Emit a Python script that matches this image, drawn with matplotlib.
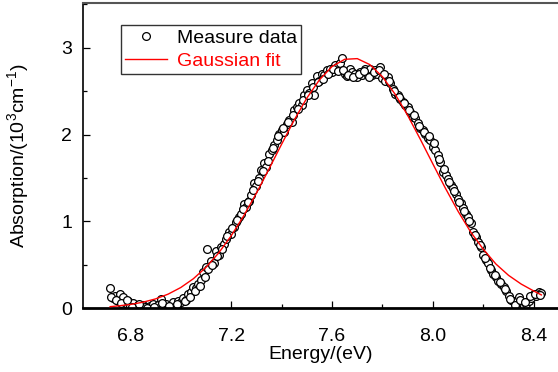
import matplotlib
matplotlib.use("Agg")
import matplotlib.pyplot as plt
from matplotlib.ticker import MultipleLocator

plt.rcParams['font.family'] = ['Liberation Sans', 'DejaVu Sans']
plt.rcParams['mathtext.default'] = 'regular'
plt.rcParams['xtick.direction'] = 'in'
plt.rcParams['ytick.direction'] = 'in'

energy = [6.72, 6.73, 6.74, 6.75, 6.76, 6.77, 6.78, 6.79, 6.80, 6.81,
          6.82, 6.83, 6.84, 6.85, 6.86, 6.87, 6.88, 6.89, 6.90, 6.91,
          6.92, 6.93, 6.94, 6.95, 6.96, 6.97, 6.98, 6.99, 7.00, 7.01,
          7.02, 7.03, 7.04, 7.05, 7.06, 7.07, 7.08, 7.09, 7.10, 7.105,
          7.11, 7.12, 7.13, 7.14, 7.15, 7.16, 7.17, 7.18, 7.19, 7.20,
          7.21, 7.22, 7.23, 7.24, 7.25, 7.26, 7.27, 7.28, 7.29, 7.30,
          7.31, 7.32, 7.33, 7.34, 7.35, 7.36, 7.37, 7.38, 7.39, 7.40,
          7.41, 7.42, 7.43, 7.44, 7.45, 7.46, 7.47, 7.48, 7.49, 7.50,
          7.51, 7.52, 7.53, 7.54, 7.55, 7.56, 7.57, 7.58, 7.59, 7.60,
          7.61, 7.62, 7.63, 7.64, 7.65, 7.66, 7.67, 7.68, 7.69, 7.70,
          7.71, 7.72, 7.73, 7.74, 7.75, 7.76, 7.77, 7.78, 7.79, 7.80,
          7.81, 7.82, 7.83, 7.84, 7.85, 7.86, 7.87, 7.88, 7.89, 7.90,
          7.91, 7.92, 7.93, 7.94, 7.95, 7.96, 7.97, 7.98, 7.99, 8.00,
          8.01, 8.02, 8.03, 8.04, 8.05, 8.06, 8.07, 8.08, 8.09, 8.10,
          8.11, 8.12, 8.13, 8.14, 8.15, 8.16, 8.17, 8.18, 8.19, 8.20,
          8.21, 8.22, 8.23, 8.24, 8.25, 8.26, 8.27, 8.28, 8.29, 8.30,
          8.31, 8.32, 8.33, 8.34, 8.35, 8.36, 8.37, 8.38, 8.39, 8.40,
          8.41, 8.42, 8.43]
absorb = [0.23, 0.12, 0.14, 0.08, 0.16, 0.13, 0.06, 0.08, 0.03, 0.06,
          0.02, 0.04, 0.01, 0.04, 0.02, 0.00, 0.03, 0.05, 0.01, 0.04,
          0.11, 0.02, 0.05, 0.01, 0.04, 0.07, 0.03, 0.09, 0.07, 0.12,
          0.10, 0.16, 0.19, 0.25, 0.23, 0.28, 0.33, 0.42, 0.48, 0.68,
          0.45, 0.55, 0.52, 0.66, 0.62, 0.71, 0.74, 0.80, 0.88, 0.86,
          0.94, 0.99, 1.05, 1.09, 1.20, 1.17, 1.24, 1.30, 1.44, 1.41,
          1.50, 1.59, 1.67, 1.63, 1.78, 1.82, 1.88, 1.94, 2.01, 2.05,
          2.03, 2.12, 2.17, 2.15, 2.28, 2.32, 2.36, 2.34, 2.45, 2.51,
          2.48, 2.59, 2.45, 2.67, 2.62, 2.70, 2.68, 2.74, 2.76, 2.72,
          2.80, 2.78, 2.82, 2.88, 2.70, 2.67, 2.76, 2.72, 2.70, 2.66,
          2.72, 2.68, 2.75, 2.70, 2.76, 2.68, 2.74, 2.70, 2.78, 2.65,
          2.62, 2.66, 2.59, 2.53, 2.47, 2.45, 2.41, 2.38, 2.34, 2.32,
          2.26, 2.20, 2.19, 2.13, 2.08, 2.05, 2.01, 1.96, 1.94, 1.86,
          1.82, 1.76, 1.69, 1.57, 1.53, 1.49, 1.42, 1.38, 1.32, 1.26,
          1.21, 1.15, 1.09, 1.05, 0.98, 0.88, 0.82, 0.76, 0.71, 0.62,
          0.56, 0.52, 0.44, 0.40, 0.36, 0.32, 0.28, 0.25, 0.20, 0.14,
          0.10, 0.07, 0.09, 0.13, 0.06, 0.03, 0.05, 0.09, 0.12, 0.16,
          0.14, 0.19, 0.18]

# second, interleaved sweep of the same measurement
energy_b = [6.725, 6.745, 6.765, 6.785, 6.805, 6.835, 6.865, 6.895, 6.925, 6.955,
            6.985, 7.015, 7.035, 7.055, 7.075, 7.095, 7.125, 7.145, 7.165, 7.185,
            7.205, 7.225, 7.245, 7.265, 7.285, 7.305, 7.325, 7.345, 7.365, 7.385,
            7.405, 7.425, 7.445, 7.465, 7.485, 7.505, 7.525, 7.545, 7.565, 7.585,
            7.605, 7.625, 7.645, 7.665, 7.685, 7.705, 7.725, 7.745, 7.765, 7.785,
            7.805, 7.825, 7.845, 7.865, 7.885, 7.905, 7.925, 7.945, 7.965, 7.985,
            8.005, 8.025, 8.045, 8.065, 8.085, 8.105, 8.125, 8.145, 8.165, 8.185,
            8.205, 8.225, 8.245, 8.265, 8.285, 8.305, 8.325, 8.345, 8.365, 8.385,
            8.405, 8.425]
absorb_b = [0.13, 0.10, 0.06, 0.10, 0.02, 0.05, 0.01, 0.02, 0.06, 0.03,
            0.05, 0.08, 0.13, 0.20, 0.26, 0.36, 0.50, 0.60, 0.68, 0.83,
            0.92, 1.02, 1.14, 1.22, 1.36, 1.47, 1.58, 1.70, 1.85, 1.98,
            2.08, 2.14, 2.22, 2.30, 2.40, 2.46, 2.55, 2.60, 2.64, 2.70,
            2.75, 2.73, 2.74, 2.69, 2.66, 2.70, 2.73, 2.66, 2.72, 2.74,
            2.70, 2.62, 2.50, 2.43, 2.36, 2.28, 2.23, 2.10, 2.03, 1.98,
            1.90, 1.72, 1.60, 1.45, 1.35, 1.22, 1.12, 1.00, 0.85, 0.73,
            0.58, 0.47, 0.38, 0.30, 0.22, 0.11, 0.04, 0.10, 0.07, 0.14,
            0.17, 0.15]

# gaussian fit curve, sampled from the figure
fit_energy = [6.72, 6.75, 6.80, 6.85, 6.90, 6.95, 7.00, 7.05, 7.10, 7.15,
              7.20, 7.25, 7.30, 7.35, 7.40, 7.45, 7.50, 7.55, 7.60, 7.65,
              7.70, 7.75, 7.80, 7.85, 7.90, 7.95, 8.00, 8.05, 8.10, 8.15,
              8.20, 8.25, 8.30, 8.35, 8.40, 8.43]
fit_absorb = [0.02, 0.028, 0.045, 0.071, 0.109, 0.164, 0.240, 0.341, 0.472, 0.636,
              0.835, 1.066, 1.325, 1.604, 1.889, 2.167, 2.420, 2.630, 2.783, 2.866,
              2.874, 2.805, 2.665, 2.465, 2.220, 1.946, 1.661, 1.380, 1.116, 0.878,
              0.680, 0.51, 0.38, 0.28, 0.20, 0.155]

fig = plt.figure(figsize=(5.58, 3.72), dpi=100)
ax = fig.add_axes([0.149, 0.171, 0.851, 0.820])

ax.plot(energy + energy_b, absorb + absorb_b, 'o', mfc='white', mec='black',
        ms=5.6, mew=0.9, label='Measure data', zorder=2)
ax.plot(fit_energy, fit_absorb, '-', color='red', lw=1.0,
        label='Gaussian fit', zorder=3)

ax.set_xlim(6.613, 8.496)
ax.set_ylim(0, 3.51)
ax.xaxis.set_major_locator(MultipleLocator(0.4))
ax.xaxis.set_minor_locator(MultipleLocator(0.2))
ax.yaxis.set_major_locator(MultipleLocator(1))
ax.yaxis.set_minor_locator(MultipleLocator(0.5))
ax.tick_params(which='both', direction='in', labelsize=14, width=0.9,
               top=False, right=False)
ax.tick_params(which='major', direction='in', length=5)
ax.tick_params(which='minor', direction='in', length=3)
ax.tick_params(axis='x', which='major', pad=14)
ax.tick_params(axis='y', which='major', pad=8)

ax.spines['right'].set_visible(False)
ax.spines['left'].set_linewidth(1.2)
ax.spines['bottom'].set_linewidth(2.0)
ax.spines['top'].set_linewidth(1.5)
ax.spines['top'].set_color('#555555')

ax.set_xlabel('Energy/(eV)', fontsize=14, labelpad=1)
ax.set_ylabel('Absorption/(10$^3$cm$^{-1}$)', fontsize=14, labelpad=22)

leg = ax.legend(loc='upper left', bbox_to_anchor=(0.079, 0.929), fontsize=14,
                frameon=True, fancybox=False, edgecolor='black', numpoints=1,
                borderpad=0.2, handlelength=2.2, handletextpad=0.5,
                labelspacing=0.3, borderaxespad=0)
leg.get_frame().set_linewidth(1.0)
leg.get_texts()[1].set_color('red')

fig.savefig('out.png', dpi=100)
